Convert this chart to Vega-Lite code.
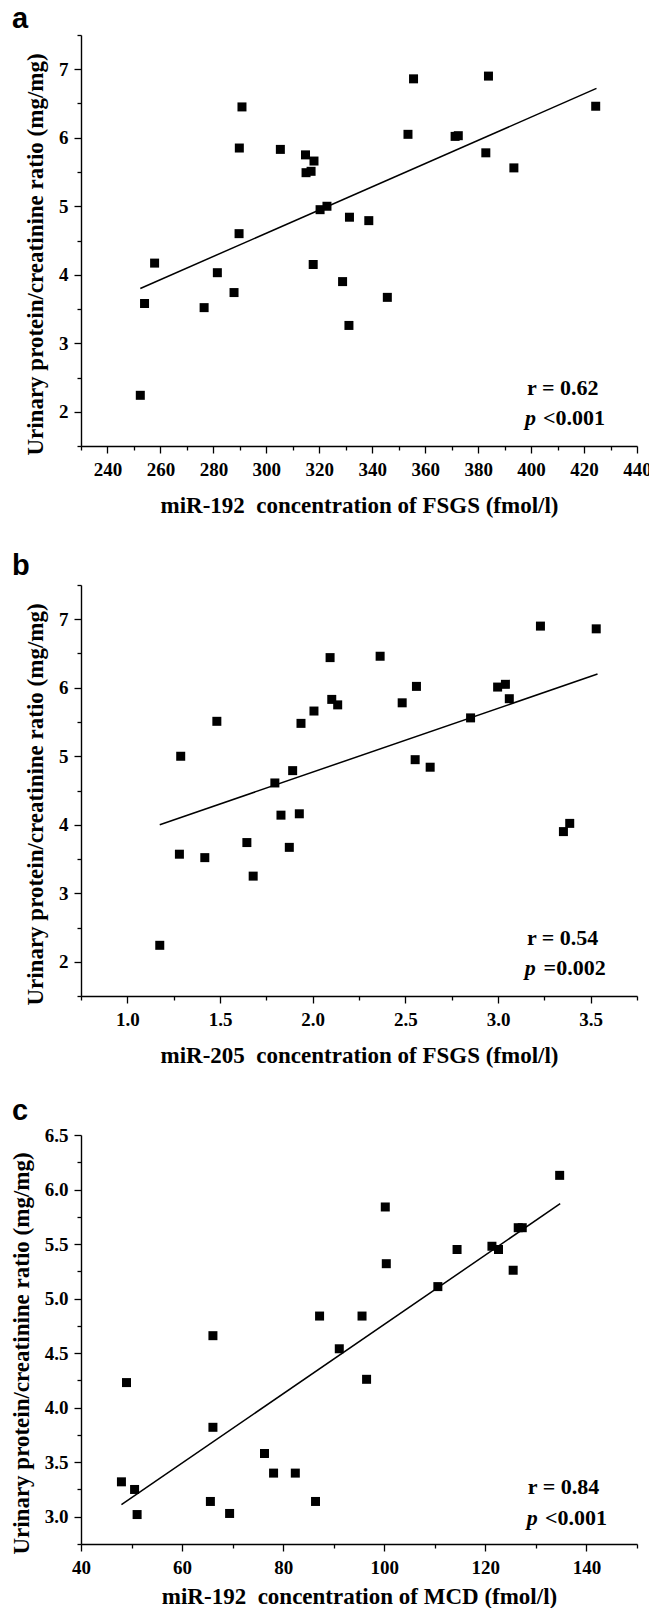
{
  "$schema": "https://vega.github.io/schema/vega-lite/v6.json",
  "autosize": {"type": "pad"},
  "padding": {"left": 10, "top": 5, "right": 0, "bottom": 0},
  "background": "white",
  "bounds": "flush",
  "spacing": 139,
  "datasets": {
    "a": [
      {"mir": 252.4, "upcr": 2.24}, {"mir": 254.0, "upcr": 3.58}, {"mir": 257.8, "upcr": 4.17},
      {"mir": 276.5, "upcr": 3.52}, {"mir": 281.5, "upcr": 4.03}, {"mir": 287.8, "upcr": 3.74},
      {"mir": 289.7, "upcr": 4.60}, {"mir": 289.8, "upcr": 5.85}, {"mir": 290.8, "upcr": 6.45},
      {"mir": 305.3, "upcr": 5.83}, {"mir": 314.8, "upcr": 5.75}, {"mir": 315.0, "upcr": 5.49},
      {"mir": 316.9, "upcr": 5.51}, {"mir": 318.0, "upcr": 5.66}, {"mir": 317.7, "upcr": 4.15},
      {"mir": 320.3, "upcr": 4.95}, {"mir": 322.9, "upcr": 5.00}, {"mir": 328.8, "upcr": 3.90},
      {"mir": 331.4, "upcr": 4.84}, {"mir": 331.2, "upcr": 3.26}, {"mir": 338.7, "upcr": 4.79},
      {"mir": 345.7, "upcr": 3.67}, {"mir": 353.5, "upcr": 6.05}, {"mir": 355.6, "upcr": 6.86},
      {"mir": 371.3, "upcr": 6.02}, {"mir": 372.5, "upcr": 6.03}, {"mir": 382.9, "upcr": 5.78},
      {"mir": 383.9, "upcr": 6.90}, {"mir": 393.5, "upcr": 5.56}, {"mir": 424.4, "upcr": 6.46}
    ],
    "aLine": [{"mir": 252.4, "upcr": 3.80}, {"mir": 424.7, "upcr": 6.72}],
    "b": [
      {"mir": 1.175, "upcr": 2.24}, {"mir": 1.281, "upcr": 3.57}, {"mir": 1.288, "upcr": 5.00},
      {"mir": 1.418, "upcr": 3.52}, {"mir": 1.483, "upcr": 5.51}, {"mir": 1.645, "upcr": 3.74},
      {"mir": 1.679, "upcr": 3.25}, {"mir": 1.796, "upcr": 4.61}, {"mir": 1.829, "upcr": 4.14},
      {"mir": 1.874, "upcr": 3.67}, {"mir": 1.892, "upcr": 4.79}, {"mir": 1.928, "upcr": 4.16},
      {"mir": 1.937, "upcr": 5.48}, {"mir": 2.007, "upcr": 5.66}, {"mir": 2.094, "upcr": 6.44},
      {"mir": 2.103, "upcr": 5.83}, {"mir": 2.135, "upcr": 5.75}, {"mir": 2.364, "upcr": 6.46},
      {"mir": 2.483, "upcr": 5.78}, {"mir": 2.553, "upcr": 4.95}, {"mir": 2.560, "upcr": 6.02},
      {"mir": 2.634, "upcr": 4.84}, {"mir": 2.852, "upcr": 5.56}, {"mir": 2.998, "upcr": 6.01},
      {"mir": 3.040, "upcr": 6.05}, {"mir": 3.061, "upcr": 5.84}, {"mir": 3.229, "upcr": 6.90},
      {"mir": 3.353, "upcr": 3.90}, {"mir": 3.387, "upcr": 4.02}, {"mir": 3.530, "upcr": 6.86}
    ],
    "bLine": [{"mir": 1.175, "upcr": 4.00}, {"mir": 3.537, "upcr": 6.20}],
    "c": [
      {"mir": 48.0, "upcr": 3.32}, {"mir": 49.0, "upcr": 4.23}, {"mir": 50.6, "upcr": 3.25},
      {"mir": 51.1, "upcr": 3.02}, {"mir": 65.6, "upcr": 3.14}, {"mir": 66.1, "upcr": 4.66},
      {"mir": 66.1, "upcr": 3.82}, {"mir": 69.4, "upcr": 3.03}, {"mir": 76.3, "upcr": 3.58},
      {"mir": 78.1, "upcr": 3.40}, {"mir": 82.4, "upcr": 3.40}, {"mir": 86.4, "upcr": 3.14},
      {"mir": 87.2, "upcr": 4.84}, {"mir": 91.1, "upcr": 4.54}, {"mir": 95.6, "upcr": 4.84},
      {"mir": 96.5, "upcr": 4.26}, {"mir": 100.2, "upcr": 5.84}, {"mir": 100.4, "upcr": 5.32},
      {"mir": 110.6, "upcr": 5.11}, {"mir": 114.4, "upcr": 5.45}, {"mir": 121.3, "upcr": 5.48},
      {"mir": 122.6, "upcr": 5.45}, {"mir": 125.5, "upcr": 5.26}, {"mir": 126.5, "upcr": 5.65},
      {"mir": 127.3, "upcr": 5.65}, {"mir": 134.7, "upcr": 6.13}
    ],
    "cLine": [{"mir": 48.0, "upcr": 3.11}, {"mir": 134.8, "upcr": 5.87}]
  },
  "config": {
    "view": {"stroke": null},
    "axis": {
      "grid": false,
      "domainColor": "black",
      "domainWidth": 1.4,
      "tickColor": "black",
      "tickWidth": 1.3,
      "tickSize": 7,
      "labelFont": "Liberation Serif",
      "labelFontWeight": "bold",
      "labelFontSize": 19,
      "labelColor": "black",
      "labelOverlap": false,
      "labelFlush": false,
      "labelBound": false,
      "titleFont": "Liberation Serif",
      "titleFontWeight": "bold",
      "titleFontSize": 23,
      "titleColor": "black"
    },
    "axisX": {"labelPadding": 7, "titlePadding": 15},
    "axisY": {"labelPadding": 6, "titlePadding": 11},
    "text": {"font": "Liberation Serif", "fontWeight": "bold", "fontSize": 22, "color": "black", "align": "left", "baseline": "alphabetic"}
  },
  "vconcat": [
    {
      "width": 556,
      "height": 411,
      "resolve": {"axis": {"x": "independent", "y": "independent"}},
      "layer": [
        {
          "data": {"name": "a"},
          "mark": {"type": "point", "shape": "square", "filled": true, "size": 81, "color": "black", "opacity": 1},
          "encoding": {
            "x": {
              "field": "mir", "type": "quantitative",
              "scale": {"domain": [230, 440], "nice": false, "zero": false},
              "axis": {"orient": "bottom", "title": "miR-192\u00a0 concentration of FSGS (fmol/l)", "values": [240, 260, 280, 300, 320, 340, 360, 380, 400, 420, 440], "format": ".0f"}
            },
            "y": {
              "field": "upcr", "type": "quantitative",
              "scale": {"domain": [1.5, 7.5], "nice": false, "zero": false},
              "axis": {"orient": "left", "title": "Urinary protein/creatinine ratio (mg/mg)", "titleY": 219, "values": [2, 3, 4, 5, 6, 7], "format": ".0f"}
            }
          }
        },
        {
          "data": {"name": "aLine"},
          "mark": {"type": "line", "color": "black", "strokeWidth": 1.5},
          "encoding": {
            "x": {
              "field": "mir", "type": "quantitative",
              "scale": {"domain": [230, 440], "nice": false, "zero": false},
              "axis": {"orient": "bottom", "title": null, "labels": false, "domain": false, "tickSize": 4, "values": [230, 250, 270, 290, 310, 330, 350, 370, 390, 410, 430]}
            },
            "y": {
              "field": "upcr", "type": "quantitative",
              "scale": {"domain": [1.5, 7.5], "nice": false, "zero": false},
              "axis": {"orient": "left", "title": null, "labels": false, "domain": false, "tickSize": 4, "values": [1.5, 2.5, 3.5, 4.5, 5.5, 6.5, 7.5]}
            }
          }
        },
        {
          "data": {"values": [{}]},
          "mark": {"type": "text", "text": "a", "font": "Liberation Sans", "fontSize": 29},
          "encoding": {"x": {"datum": 203.9, "type": "quantitative", "axis": null}, "y": {"datum": 7.595, "type": "quantitative", "axis": null}}
        },
        {
          "data": {"values": [{}]},
          "mark": {"type": "text", "text": "r = 0.62"},
          "encoding": {"x": {"datum": 398.5, "type": "quantitative", "axis": null}, "y": {"datum": 2.24, "type": "quantitative", "axis": null}}
        },
        {
          "data": {"values": [{}]},
          "mark": {"type": "text", "text": "p", "fontStyle": "italic"},
          "encoding": {"x": {"datum": 397.7, "type": "quantitative", "axis": null}, "y": {"datum": 1.80, "type": "quantitative", "axis": null}}
        },
        {
          "data": {"values": [{}]},
          "mark": {"type": "text", "text": "<0.001"},
          "encoding": {"x": {"datum": 404.5, "type": "quantitative", "axis": null}, "y": {"datum": 1.80, "type": "quantitative", "axis": null}}
        }
      ]
    },
    {
      "width": 556,
      "height": 411,
      "resolve": {"axis": {"x": "independent", "y": "independent"}},
      "layer": [
        {
          "data": {"name": "b"},
          "mark": {"type": "point", "shape": "square", "filled": true, "size": 81, "color": "black", "opacity": 1},
          "encoding": {
            "x": {
              "field": "mir", "type": "quantitative",
              "scale": {"domain": [0.75, 3.75], "nice": false, "zero": false},
              "axis": {"orient": "bottom", "title": "miR-205\u00a0 concentration of FSGS (fmol/l)", "values": [1, 1.5, 2, 2.5, 3, 3.5], "format": ".1f"}
            },
            "y": {
              "field": "upcr", "type": "quantitative",
              "scale": {"domain": [1.5, 7.5], "nice": false, "zero": false},
              "axis": {"orient": "left", "title": "Urinary protein/creatinine ratio (mg/mg)", "titleY": 219, "values": [2, 3, 4, 5, 6, 7], "format": ".0f"}
            }
          }
        },
        {
          "data": {"name": "bLine"},
          "mark": {"type": "line", "color": "black", "strokeWidth": 1.5},
          "encoding": {
            "x": {
              "field": "mir", "type": "quantitative",
              "scale": {"domain": [0.75, 3.75], "nice": false, "zero": false},
              "axis": {"orient": "bottom", "title": null, "labels": false, "domain": false, "tickSize": 4, "values": [0.75, 1.25, 1.75, 2.25, 2.75, 3.25, 3.75]}
            },
            "y": {
              "field": "upcr", "type": "quantitative",
              "scale": {"domain": [1.5, 7.5], "nice": false, "zero": false},
              "axis": {"orient": "left", "title": null, "labels": false, "domain": false, "tickSize": 4, "values": [1.5, 2.5, 3.5, 4.5, 5.5, 6.5, 7.5]}
            }
          }
        },
        {
          "data": {"values": [{}]},
          "mark": {"type": "text", "text": "b", "font": "Liberation Sans", "fontSize": 29},
          "encoding": {"x": {"datum": 0.378, "type": "quantitative", "axis": null}, "y": {"datum": 7.639, "type": "quantitative", "axis": null}}
        },
        {
          "data": {"values": [{}]},
          "mark": {"type": "text", "text": "r = 0.54"},
          "encoding": {"x": {"datum": 3.156, "type": "quantitative", "axis": null}, "y": {"datum": 2.24, "type": "quantitative", "axis": null}}
        },
        {
          "data": {"values": [{}]},
          "mark": {"type": "text", "text": "p", "fontStyle": "italic"},
          "encoding": {"x": {"datum": 3.145, "type": "quantitative", "axis": null}, "y": {"datum": 1.80, "type": "quantitative", "axis": null}}
        },
        {
          "data": {"values": [{}]},
          "mark": {"type": "text", "text": "=0.002"},
          "encoding": {"x": {"datum": 3.246, "type": "quantitative", "axis": null}, "y": {"datum": 1.80, "type": "quantitative", "axis": null}}
        }
      ]
    },
    {
      "width": 556,
      "height": 409,
      "resolve": {"axis": {"x": "independent", "y": "independent"}},
      "layer": [
        {
          "data": {"name": "c"},
          "mark": {"type": "point", "shape": "square", "filled": true, "size": 81, "color": "black", "opacity": 1},
          "encoding": {
            "x": {
              "field": "mir", "type": "quantitative",
              "scale": {"domain": [40, 150], "nice": false, "zero": false},
              "axis": {"orient": "bottom", "title": "miR-192\u00a0 concentration of MCD (fmol/l)", "values": [40, 60, 80, 100, 120, 140], "format": ".0f", "titlePadding": 8}
            },
            "y": {
              "field": "upcr", "type": "quantitative",
              "scale": {"domain": [2.75, 6.5], "nice": false, "zero": false},
              "axis": {"orient": "left", "title": "Urinary protein/creatinine ratio (mg/mg)", "titleY": 218, "values": [3, 3.5, 4, 4.5, 5, 5.5, 6, 6.5], "format": ".1f"}
            }
          }
        },
        {
          "data": {"name": "cLine"},
          "mark": {"type": "line", "color": "black", "strokeWidth": 1.5},
          "encoding": {
            "x": {
              "field": "mir", "type": "quantitative",
              "scale": {"domain": [40, 150], "nice": false, "zero": false},
              "axis": {"orient": "bottom", "title": null, "labels": false, "domain": false, "tickSize": 4, "values": [50, 70, 90, 110, 130, 150]}
            },
            "y": {
              "field": "upcr", "type": "quantitative",
              "scale": {"domain": [2.75, 6.5], "nice": false, "zero": false},
              "axis": {"orient": "left", "title": null, "labels": false, "domain": false, "tickSize": 4, "values": [2.75, 3.25, 3.75, 4.25, 4.75, 5.25, 5.75, 6.25]}
            }
          }
        },
        {
          "data": {"values": [{}]},
          "mark": {"type": "text", "text": "c", "font": "Liberation Sans", "fontSize": 29},
          "encoding": {"x": {"datum": 26.35, "type": "quantitative", "axis": null}, "y": {"datum": 6.639, "type": "quantitative", "axis": null}}
        },
        {
          "data": {"values": [{}]},
          "mark": {"type": "text", "text": "r = 0.84"},
          "encoding": {"x": {"datum": 128.4, "type": "quantitative", "axis": null}, "y": {"datum": 3.21, "type": "quantitative", "axis": null}}
        },
        {
          "data": {"values": [{}]},
          "mark": {"type": "text", "text": "p", "fontStyle": "italic"},
          "encoding": {"x": {"datum": 128.2, "type": "quantitative", "axis": null}, "y": {"datum": 2.92, "type": "quantitative", "axis": null}}
        },
        {
          "data": {"values": [{}]},
          "mark": {"type": "text", "text": "<0.001"},
          "encoding": {"x": {"datum": 131.8, "type": "quantitative", "axis": null}, "y": {"datum": 2.92, "type": "quantitative", "axis": null}}
        }
      ]
    }
  ]
}
